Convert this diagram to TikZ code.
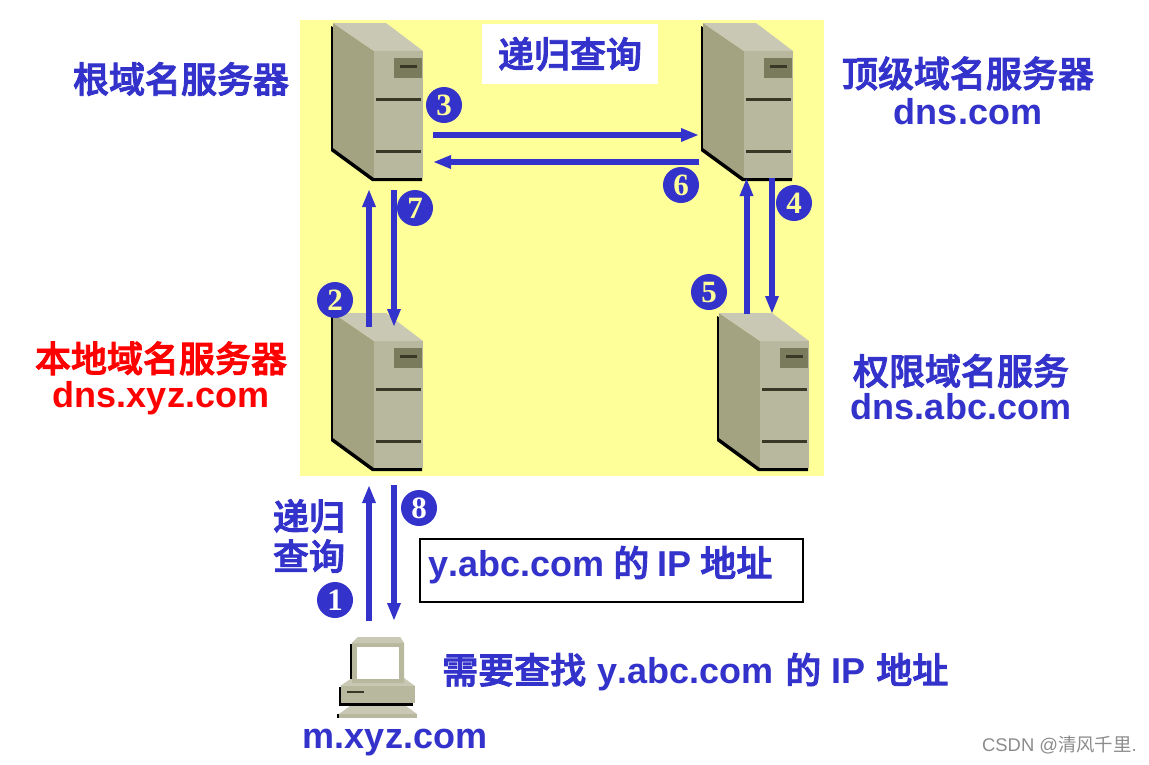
\documentclass[tikz,border=0pt]{standalone}
\usepackage{fontspec}
\setmainfont[Kerning=Off]{Liberation Sans}
\newfontfamily\cjk[FakeBold=2.5]{Noto Sans CJK SC Medium}
\newfontfamily\cjkplain{Noto Sans CJK SC}
\newfontfamily\digitfont{Liberation Serif}
\usetikzlibrary{arrows.meta}
\definecolor{dnsblue}{RGB}{51,51,204}
\definecolor{pale}{RGB}{255,255,153}
\definecolor{cTop}{RGB}{200,200,180}
\definecolor{cFront}{RGB}{184,184,158}
\definecolor{cSide}{RGB}{163,163,130}
\definecolor{cPlate}{RGB}{122,122,92}
\definecolor{cSlot}{RGB}{56,56,38}
\newcommand{\zh}[1]{{\cjk\mdseries #1}}
\tikzset{
  x=1pt,y=-1pt,
  lbl/.style={inner sep=0pt,font=\fontsize{36}{37}\selectfont\bfseries,text=dnsblue,align=center},
  flow/.style={draw=dnsblue,line width=6pt,-{Triangle[width=12.5pt,length=18pt]}},
  badge/.style={circle,fill=dnsblue,minimum size=36pt,inner sep=0pt,text=pale,font=\fontsize{31}{31}\digitfont\bfseries},
  server/.pic={
    \fill (-2,3) -- (10,10) -- (80,150) -- (89,150) -- (89,158) -- (39,158) -- (-2,128) -- cycle;
    \fill[cSide] (0,0) -- (41,28) -- (41,155) -- (0,125) -- cycle;
    \fill[cTop] (0,0) -- (53,0) -- (90,28) -- (41,28) -- cycle;
    \fill[cFront] (41,28) rectangle (90,155);
    \fill[cPlate] (61,35) rectangle (89,55);
    \fill[cSlot] (67,42) rectangle (84,45);
    \fill[cSlot] (43,75) rectangle (88,78);
    \fill[cSlot] (43,127) rectangle (88,130);
  }
}
\begin{document}
\begin{tikzpicture}
\useasboundingbox (0,0) rectangle (1149,764);
\fill[white] (0,0) rectangle (1149,764);
\node[fill=pale,minimum width=524pt,minimum height=456pt,inner sep=0pt] (zone) at (562,248) {};
\node[fill=white,minimum width=176pt,minimum height=60pt,inner sep=0pt,lbl] (rq) at (570,54) {\zh{递归查询}};

\pic at (333,23) {server};
\pic at (703,23) {server};
\pic at (333,313) {server};
\pic at (719,313) {server};

% client computer: base, monitor, keyboard
\fill (339,687) rectangle (341,706);
\fill (339,703) rectangle (413,706);
\fill[cTop] (340,686) -- (352,678) -- (404,678) -- (415,686) -- cycle;
\fill[cFront] (341,686) rectangle (415,703);
\fill[cSlot] (347,691) rectangle (364,693);
\fill (350,644) rectangle (352,679);
\fill[cFront] (352,643) -- (358,637) -- (400,637) -- (404,643) -- (404,683) -- (352,683) -- cycle;
\fill[cTop] (352,643) -- (358,637) -- (400,637) -- (404,643) -- cycle;
\fill[white] (357,647) rectangle (399,679);
\fill (337,714) rectangle (339,718);
\fill[cTop] (339,714) -- (350,706) -- (406,706) -- (417,714) -- cycle;
\fill[cFront] (339,714) rectangle (417,718);

% connector ends
\coordinate (a3s) at (433,135); \coordinate (a3e) at (699,135);
\coordinate (a6s) at (699,162); \coordinate (a6e) at (433,162);
\coordinate (a2s) at (369,327); \coordinate (a2e) at (369,189);
\coordinate (a7s) at (394,190); \coordinate (a7e) at (394,327);
\coordinate (a5s) at (746.5,314); \coordinate (a5e) at (746.5,178);
\coordinate (a4s) at (772,178); \coordinate (a4e) at (772,314);
\coordinate (a1s) at (369,621); \coordinate (a1e) at (369,485);
\coordinate (a8s) at (394,485); \coordinate (a8e) at (394,621);
\foreach \n in {1,...,8} \draw[flow] (a\n s) -- (a\n e);

\node[badge,text=white] (b1) at (335,600) {1};
\node[badge] (b2) at (335,300) {2};
\node[badge] (b3) at (444,105) {3};
\node[badge] (b4) at (794,203) {4};
\node[badge] (b5) at (709,292) {5};
\node[badge] (b6) at (681,185) {6};
\node[badge] (b7) at (415,208) {7};
\node[badge,text=white] (b8) at (419,508) {8};

\node[lbl] (root) at (181,79) {\zh{根域名服务器}};
\node[lbl] (tld) at (968,90.5) {\zh{顶级域名服务器}\\dns.com};
\node[lbl,text=red] (local) at (161,378) {\zh{本地域名服务器}\\[-2pt]dns.xyz.com};
\node[lbl] (auth) at (961,387) {\zh{权限域名服务}\\[-2pt]dns.abc.com};
\node[lbl] (rec) at (309,536) {\zh{递归}\\[3pt]\zh{查询}};
\node[draw=black,line width=2pt,fill=white,minimum width=383pt,minimum height=63pt,inner sep=0pt] (ansbox) at (611.5,570.5) {};
\node[lbl,anchor=west] (ans) at (428,565) {y.abc.com\hspace{9pt}\zh{的}\hspace{8pt}IP\hspace{9pt}\zh{地址}};
\node[lbl,anchor=west] (need) at (442,672) {\zh{需要查找}\hspace{11pt}y.abc.com\hspace{12pt}\zh{的}\hspace{10pt}IP\hspace{11pt}\zh{地址}};
\node[lbl] (host) at (395,743) {m.xyz.com};
\node[inner sep=0pt,anchor=east,text=black!45,font=\fontsize{18.4}{18.4}\selectfont] (mark) at (1137,745) {CSDN @{\cjkplain 清风千里}.};
\end{tikzpicture}
\end{document}
